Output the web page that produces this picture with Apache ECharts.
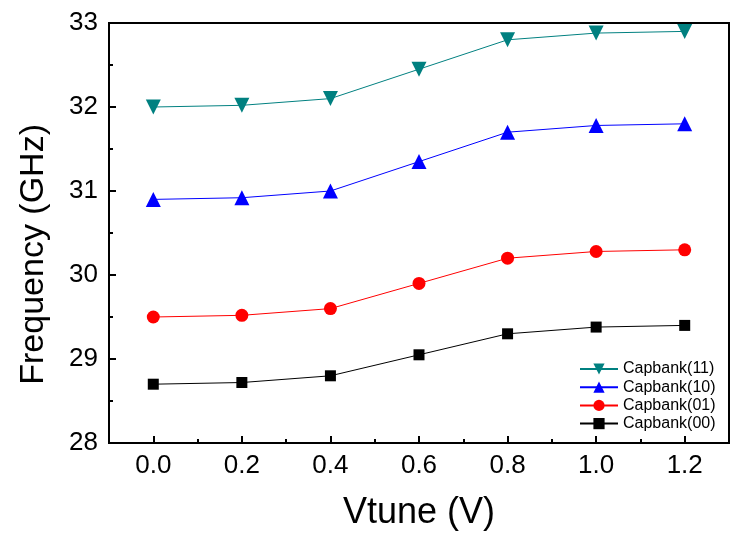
<!DOCTYPE html>
<html>
<head>
<meta charset="utf-8">
<script src="https://cdn.jsdelivr.net/npm/echarts@6/dist/echarts.min.js"></script>
<style>html,body{margin:0;padding:0;background:#fff}#c{width:732px;height:541px}</style>
</head>
<body>
<div id="c"></div>
<script>
const vtune = [0.0, 0.2, 0.4, 0.6, 0.8, 1.0, 1.2];
const xTicks = [0.0, 0.2, 0.4, 0.6, 0.8, 1.0, 1.2];
const capbank11 = [32.0, 32.02, 32.1, 32.45, 32.8, 32.88, 32.9];
const capbank10 = [30.9, 30.92, 31.0, 31.35, 31.7, 31.78, 31.8];
const capbank01 = [29.5, 29.52, 29.6, 29.9, 30.2, 30.28, 30.3];
const capbank00 = [28.7, 28.72, 28.8, 29.05, 29.3, 29.38, 29.4];
const seriesNames = ['Capbank(11)', 'Capbank(10)', 'Capbank(01)', 'Capbank(00)'];
const xTitle = 'Vtune (V)';
const yTitle = 'Frequency (GHz)';

const font = '"Liberation Sans", Arial, sans-serif';
const pairs = arr => vtune.map((x, i) => [x, arr[i]]);

const chart = echarts.init(document.getElementById('c'), null, {renderer: 'canvas'});
function mk(name, arr, color, symbol, size, rot) {
  return {
    name, type: 'line', data: pairs(arr), xAxisIndex: 0, yAxisIndex: 0,
    symbol, symbolSize: size, symbolRotate: rot || 0,
    lineStyle: {color, width: 1}, itemStyle: {color},
    animation: false
  };
}
chart.setOption({
  animation: false,
  grid: {left: 109, right: 3, top: 23, bottom: 98, show: true, borderColor: '#000', borderWidth: 2},
  legend: {
    orient: 'vertical', left: 574, top: 356, itemWidth: 38, itemHeight: 14, itemGap: 2.2,
    data: seriesNames,
    textStyle: {fontFamily: font, fontSize: 16, color: '#000'}
  },
  graphic: [{
    type: 'text', left: 17, top: 124,
    style: {text: yTitle, font: '34px "Liberation Sans", Arial, sans-serif', fill: '#000'},
    rotation: Math.PI / 2
  }],
  xAxis: [{
    type: 'value', min: -0.1, max: 1.3,
    name: xTitle, nameLocation: 'middle', nameGap: 52,
    nameTextStyle: {fontFamily: font, fontSize: 36, color: '#000'},
    axisLine: {onZero: false, lineStyle: {color: '#000', width: 2}},
    axisTick: {inside: true, length: 7, lineStyle: {color: '#000', width: 2}, customValues: xTicks},
    axisLabel: {customValues: xTicks, fontFamily: font, fontSize: 26, color: '#000', margin: 10,
      formatter: v => v.toFixed(1)},
    splitLine: {show: false}
  }, {
    type: 'value', min: -0.1, max: 1.3, interval: 0.1, position: 'bottom',
    axisLine: {show: false, onZero: false},
    axisTick: {inside: true, length: 4, lineStyle: {color: '#000', width: 2}},
    axisLabel: {show: false}, splitLine: {show: false}
  }],
  yAxis: {
    type: 'value', min: 28, max: 33, interval: 1,
    axisLine: {show: true, onZero: false, lineStyle: {color: '#000', width: 2}},
    axisTick: {inside: true, length: 7, lineStyle: {color: '#000', width: 2}},
    minorTick: {show: true, splitNumber: 2, length: 4, lineStyle: {color: '#000', width: 2}},
    axisLabel: {fontFamily: font, fontSize: 26, color: '#000', margin: 11},
    splitLine: {show: false}, minorSplitLine: {show: false}
  },
  series: [
    mk(seriesNames[0], capbank11, '#008080', 'triangle', 15, 180),
    mk(seriesNames[1], capbank10, '#0000ff', 'triangle', 15),
    mk(seriesNames[2], capbank01, '#ff0000', 'circle', 13),
    mk(seriesNames[3], capbank00, '#000000', 'rect', 11)
  ]
});
</script>
</body>
</html>
